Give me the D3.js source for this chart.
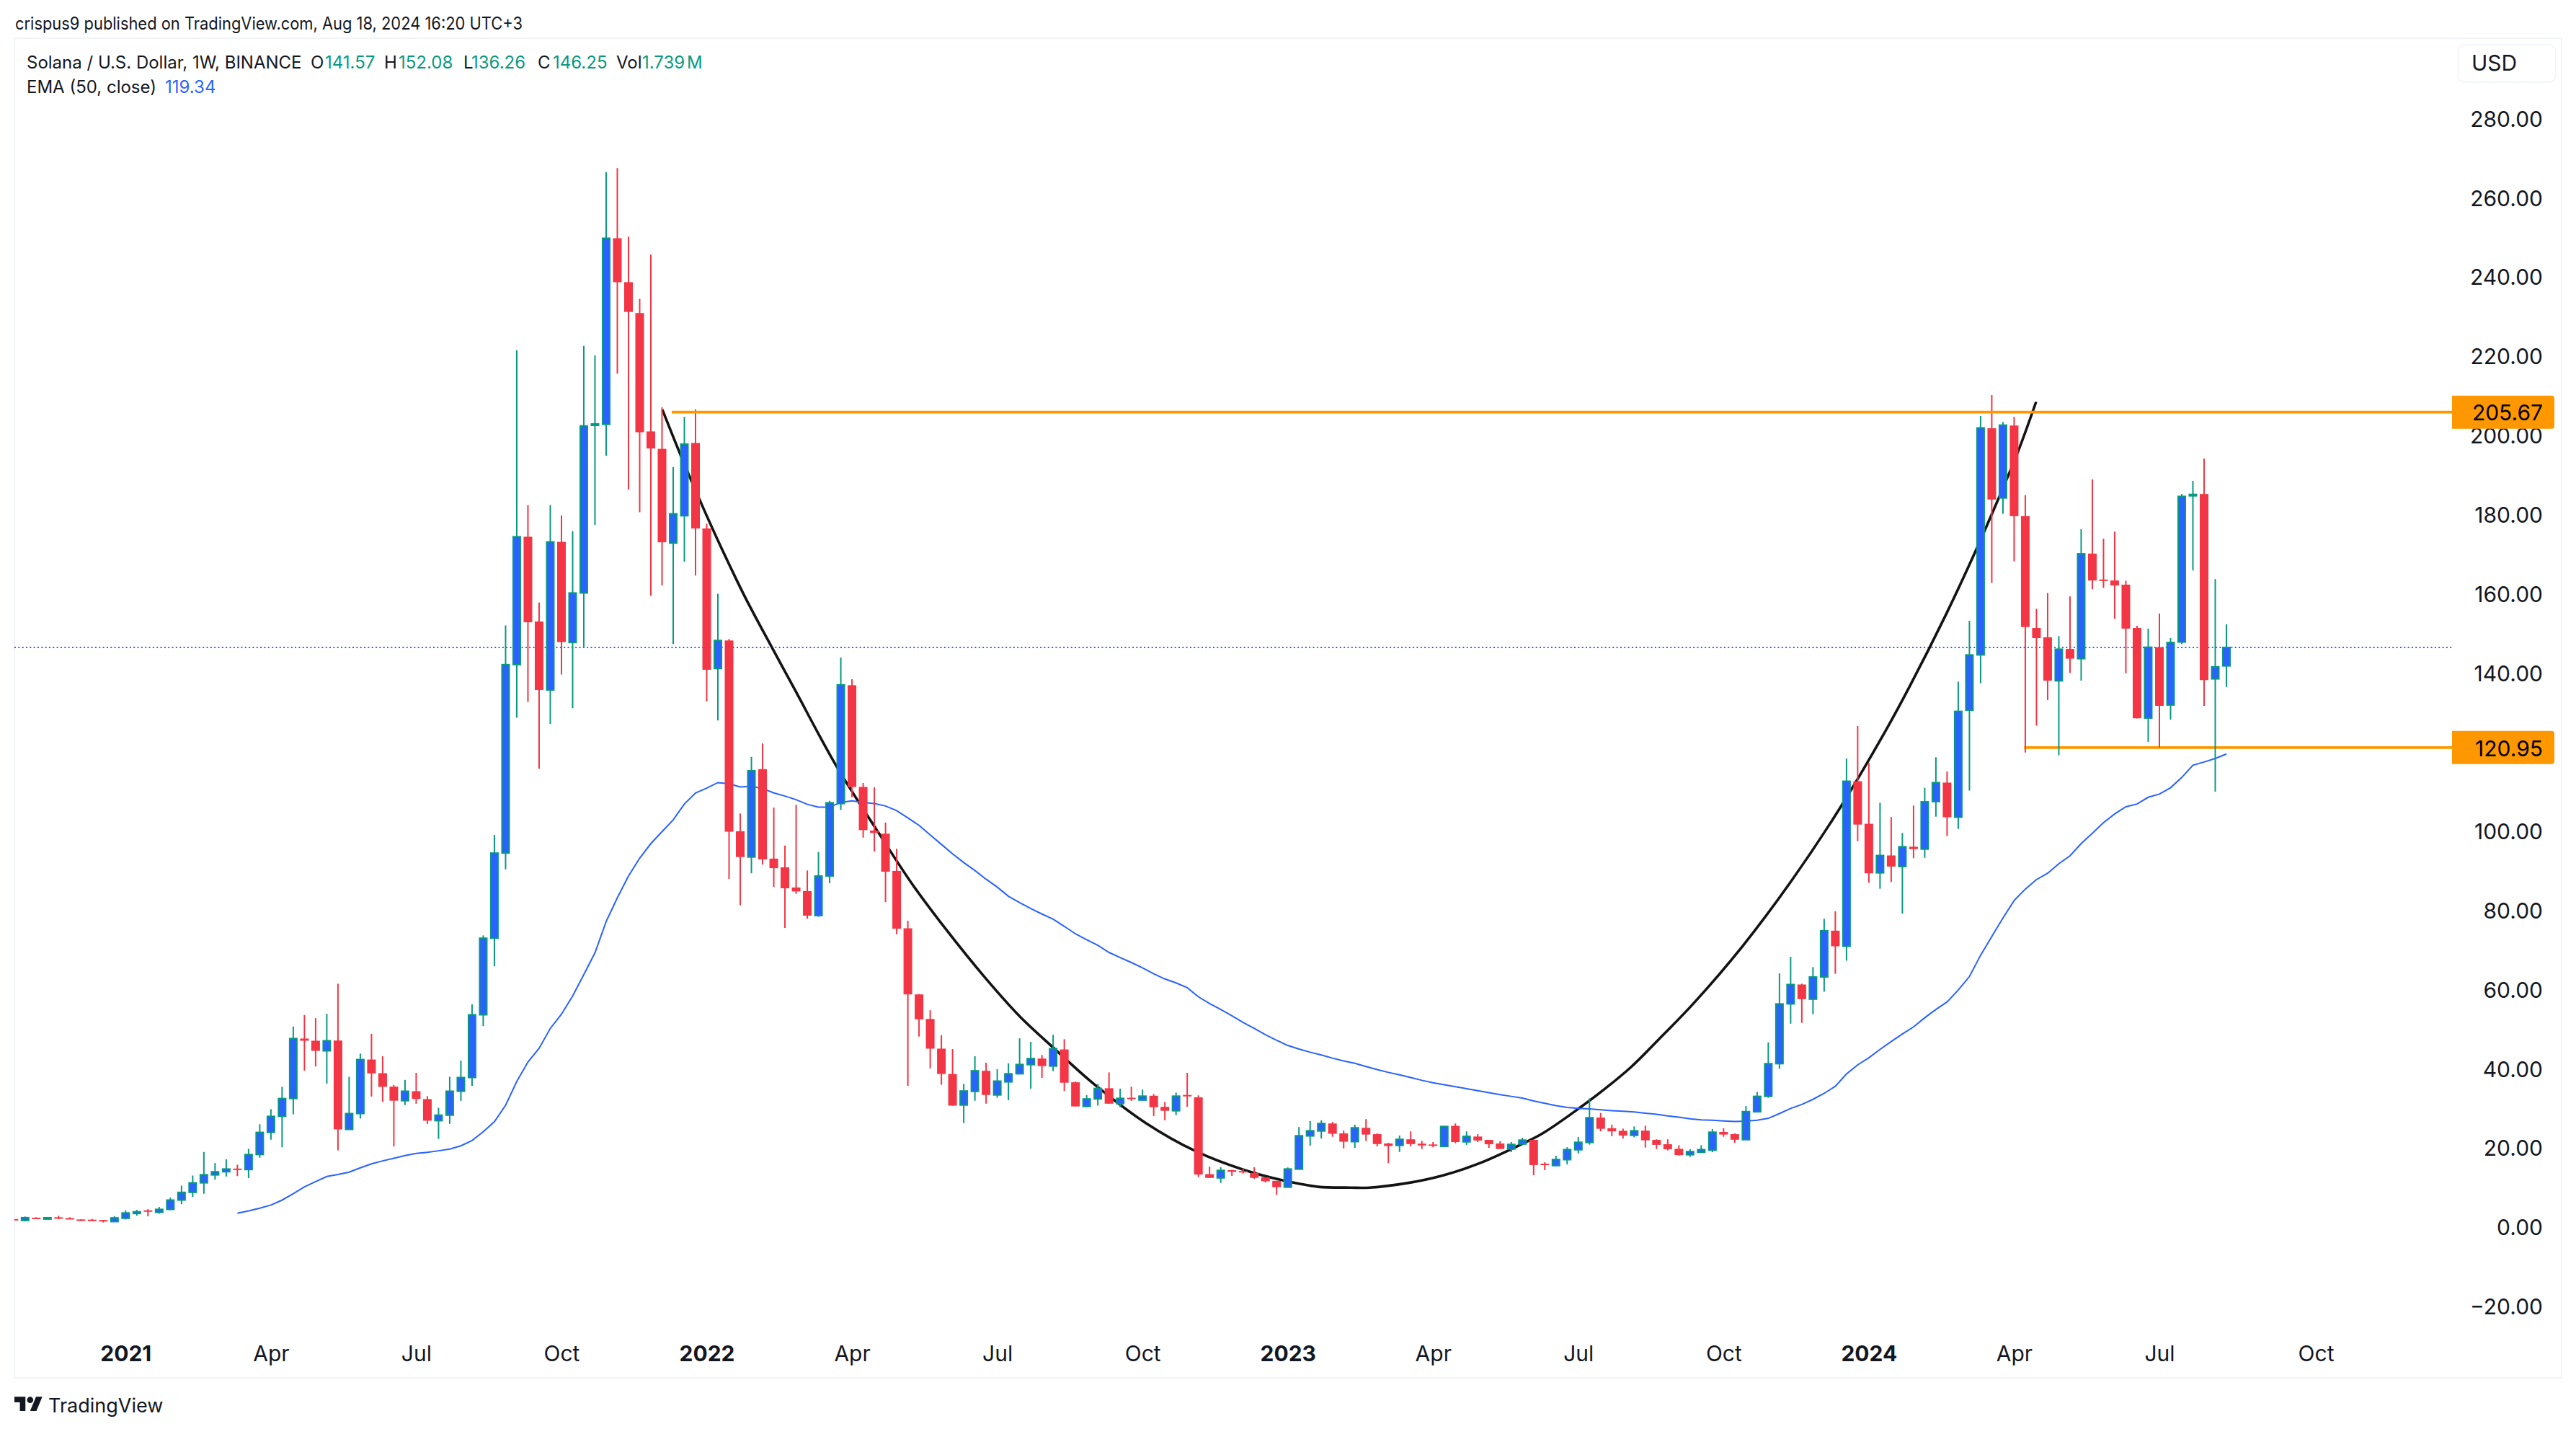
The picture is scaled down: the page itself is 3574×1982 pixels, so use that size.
<!DOCTYPE html>
<html><head><meta charset="utf-8">
<style>
html,body{margin:0;padding:0;background:#fff}
svg{display:block}
text{font-family:Inter,"Noto Sans",sans-serif;fill:#131722}
.tick line,.domain{display:none}
</style>
<script src="https://cdn.jsdelivr.net/npm/d3@7/dist/d3.min.js"></script>
</head><body><svg id="c" width="3574" height="1982"></svg>
<script>
const opens=[1.85,1.5,2.2,2.0,2.3,2.1,1.75,1.7,1.6,1.2,
2.05,3.25,4.05,3.55,4.3,6.65,8.6,11,13,13.8,
14.6,14.35,18.15,23.75,27.8,32.3,47.45,46.9,44.35,46.95,
24.5,28.5,42.15,38.7,35.3,31.75,34.15,32.15,26.7,28.1,
34.15,37.6,53.45,72.8,94.3,141.9,174.2,152.8,135.5,172.9,
147.5,160,202.5,202.6,249.6,238.5,230.7,200.8,196.4,172.6,
179.5,197.9,176.3,140.9,148,99.8,93.3,115.5,92.9,90.7,
85.6,84.7,78.5,88.5,106.8,136.7,111,100,99.2,89.8,
75.3,58.6,52.4,44.9,38.5,30.65,34.1,39.3,33.2,36.5,
38.55,40.85,42.4,40.5,44.7,36.4,30.3,32.2,34.9,31,
32.5,31.9,33,30.2,29.2,33.2,32.6,13.2,12.25,14.2,
14,13.5,12.4,11.5,9.9,14.45,22.85,24.1,26,23.5,
21.4,24.9,23.3,20.95,20.45,22,20.9,20.7,20.2,25.4,
21.35,22.7,21.85,20.95,19.55,20.8,21.85,15.85,15.35,16.85,
19.35,21.2,27.5,24.8,24.15,23,24.2,21.85,20.75,19.6,
18.1,18.75,19.25,23.85,23.3,21.9,28.95,32.85,41.1,56.2,
61.1,57.4,63,74.7,70.75,112.45,101.7,89.3,93.7,90.9,
95.9,95.3,107.3,112.1,103.35,130.4,144.35,201.6,184,202.3,
179.4,151.15,148.8,137.8,145.85,143.4,169.95,163.4,163.15,162.1,
151.15,128.4,146.3,131.7,147.6,184.6,185,138.3,141.57];
const highs=[1.9,2.5,2.3,2.35,2.7,2.3,1.85,1.9,1.65,2.6,
4.05,4.2,4.35,4.9,7.3,10.3,12.85,18.8,16,16.95,
15.6,19.6,25.8,29.6,35.25,50.5,53.4,52.6,53.7,61.3,
37.8,43.65,48.65,43,35.7,37,38.8,32.9,29.95,37.8,
41.9,56.1,73.5,98.9,151.8,221.3,182.2,157.6,182.2,179.6,
175.6,222.4,220,266.3,267.3,250,234.3,245.5,206.9,191.8,
204.5,206.4,177.5,159.8,148.4,104.3,118.6,122,105.8,96.2,
106.5,89.9,94.6,107.5,143.7,138.2,112,110.9,102,95.4,
77.2,58.7,54.6,48.3,44.8,36,43,41.35,39.7,41.2,
47.5,46.6,43.3,48.4,47.3,36.6,33.15,36,38.9,34.8,
35.3,34.55,33.45,31.45,33.8,38.8,33.1,15.1,14.95,14.3,
14.6,14.95,12.45,11.5,14.9,25.1,26.6,26.8,26.4,24.2,
25.7,27.1,23.5,21.1,22.95,24,21.6,21.3,25.4,26,
24,23.3,21.85,21.5,21.3,22.4,22,16.2,17.85,20,
22.6,32.35,28.65,25.7,24.7,25.25,25.45,22,22,20.5,
19.5,20.5,24.6,24.8,23.5,30.4,34,46.5,63.9,68.1,
61.3,65.5,77.7,79.6,118.2,126.4,117.1,107,103.4,99.4,
106.3,110.8,118.5,114.9,137.6,152.95,204.7,210,203.2,204.5,
184.7,156,160,149.1,159.15,176.1,188.7,173.7,175.5,163.1,
151.7,151,154.8,148.6,185,188.3,193.95,163.5,152.08];
const lows=[1.75,1.3,1.9,1.9,1.8,1.8,1.4,1.4,1.0,1.2,
1.75,2.7,2.55,3.2,4.1,5.6,7.45,8.25,11.8,12.6,
12.7,12.2,17.35,21.9,20,28.3,39.35,40.4,36.05,19.2,
24.4,27.25,32.8,31.45,20.2,30.65,31,25.9,22.1,25.9,
31.7,35.5,50.6,65.7,90.2,128.5,132.5,115.6,126.9,139.4,
130.9,146.2,177.2,194.7,215.4,186.1,180.4,159.3,161.9,147.1,
167.9,164.4,132.6,127.8,87.8,81.1,89.2,91.4,85.7,75.4,
84,77.7,78.2,86.7,105.2,108.4,98.2,94.7,81.9,73.8,
35.5,47.95,39.9,35.8,30.5,26.1,31.75,31,32.5,31.9,
38.4,34.8,37.5,39.2,34.2,30.3,30.1,30.5,31,30.1,
31.7,31.9,27.9,26.8,28.1,30.2,12.45,12.25,11,12.75,
13.35,12,11.1,8,9.85,14.45,20.4,22.2,22.65,19.7,
19.85,21.55,20.2,16,18.8,20.2,19.55,20,20.1,21,
20.6,21.3,19.85,19.55,18.75,20.7,12.9,14.2,15.35,15.65,
18.4,20.65,24,22.8,22.2,22.5,19.9,19.55,19.2,17.9,
17.55,18.6,18.75,22.65,21.1,21.9,28.85,32.5,39.8,51.2,
51.4,53.6,59.3,63.8,67.1,97.3,86.8,85.3,87,79,
93,93.1,103.5,98.6,100.4,110.1,137.2,162.5,180,168,
119.7,126.5,132.95,119,139.8,137.85,160.95,161.3,153.5,139.7,
128.3,122.4,120.95,128,147.1,165.7,131.5,109.8,136.26];
const closes=[1.8,2.2,2.0,2.2,2.0,1.9,1.6,1.45,1.4,2.15,
3.4,3.7,3.7,4.3,6.65,8.6,11,13.05,13.8,14.5,
14.4,18.15,23.75,27.8,32.3,47.45,46.9,44.35,46.9,24.5,
28.5,42.15,38.65,35.25,31.75,34.15,32.2,26.7,28.1,34.15,
37.6,53.45,72.8,94.3,141.9,174.2,152.6,135.5,172.9,147.6,
160,202.2,202.7,249.6,238.5,231,200.6,196.5,172.8,180,
197.6,176.3,140.6,148,99.7,93.3,115.1,92.7,90.5,85.4,
84.6,78.5,88.5,107,136.8,111,100.1,99.4,89.6,75.2,
58.6,52.3,44.9,38.5,30.5,34.2,39.3,33.2,36.7,38.55,
40.9,42.4,40.5,44.9,36.3,30.3,32.2,34.85,31,32.35,
32.3,32.9,30.1,29.2,32.9,32.85,13.1,12.25,14.15,13.8,
13.8,12.25,11.4,9.9,14.5,22.9,24.15,26,23.4,21.4,
24.9,23.2,20.8,20.3,22,20.8,20.45,20.4,25.25,21.3,
22.75,21.7,20.75,19.55,20.7,21.8,15.5,15.55,16.9,19.4,
21.25,27.45,24.65,24,22.95,24.15,21.75,20.6,19.5,18,
18.9,19.4,23.8,23.2,21.9,29,32.85,41.1,56.2,61.1,
57.4,63,74.7,70.75,112.45,101.5,89.2,93.7,90.9,95.9,
95.3,107.25,112.1,103.35,130.1,144.35,201.7,183.6,202.4,179.4,
151.4,148.6,137.85,145.8,143.4,169.9,163.15,163.1,161.9,151,
128.35,146.3,131.5,147.5,184.4,184.9,138,141.35,146.25];
const emaStart=20;
const ema50=[3.33,3.9,4.6,5.4,6.65,8.25,10,11.3,12.6,13.1,
13.7,14.8,15.8,16.55,17.2,17.9,18.45,18.7,19.1,19.55,
20.35,21.7,23.9,26.45,30.6,36.6,41.5,45,50,53.6,
58.2,63.6,69.1,77,83,88.5,93,96.7,99.7,102.7,
106.7,109.5,110.7,112.1,111.8,111,111.2,110.6,109.5,108.7,
107.8,106.6,105.9,105.9,107.1,107.5,107.1,106.8,106.2,105,
103.2,101.3,98.9,96.5,94.1,91.9,89.9,87.7,85.7,83.4,
81.8,80.3,78.9,77.6,75.8,73.9,72.4,71,69.2,67.9,
66.65,65.3,63.8,62.5,61.5,60.3,58,56.3,54.8,53.2,
51.5,50,48.4,47,45.7,44.8,44,43.3,42.5,41.8,
41.2,40.4,39.6,38.9,38.3,37.6,36.9,36.3,35.8,35.3,
34.8,34.3,33.8,33.3,32.85,32.4,31.7,31.1,30.5,30.05,
29.8,29.7,29.45,29.25,29.1,28.9,28.6,28.3,27.9,27.6,
27.2,26.9,26.8,26.65,26.5,26.6,26.8,27.3,28.5,29.8,
30.8,32.1,33.6,35.4,38.5,40.8,42.6,44.7,46.7,48.6,
50.4,52.7,54.8,56.7,59.7,63.1,68.5,73.2,77.9,82.3,
85.2,87.6,89.2,91.6,93.6,96.7,99.3,102,104.2,106,
106.7,108.4,109.2,110.8,113.4,116.5,117.3,118.2,119.34];
const cupWeeks=[58.03,59.71,61.45,63.26,65.39,67.84,69.9,73.58,77.45,80.48,83.45,86.74,90.03,93,96.6,101.25,105.83,110.15,113.76,116.73,119.63,121.3,124.6,127.9,131.2,134.5,136.8,140.1,142.4,144.7,147.6,150.3,154.66,158.92,163.24,167.56,169.69,172.91,175.04,177.23,179.36,180.97];
const cupPrices=[206.3,194.5,183,171.7,159.2,146.2,135.5,116.4,99.1,86.1,74.9,63.4,53,45.2,36.1,26.2,18.9,14.2,11.5,10,9.8,9.8,10.9,12.9,16,20.2,23.5,29.9,34.8,40.2,48.4,56.3,70.66,86.7,104.9,125.5,136.6,154.6,167.4,181.4,195.8,208.3];
const priceTicks=[-20,0,20,40,60,80,100,120,140,160,180,200,220,240,260,280];
const timeWeeks=[10,23,36,49,62,75,88,101,114,127,140,153,166,179,192,206];
const timeLabels=["2021","Apr","Jul","Oct","2022","Apr","Jul","Oct","2023","Apr","Jul","Oct","2024","Apr","Jul","Oct"];
const levelValues=[205.67,120.95];
const levelStartWeeks=[58.87,179.9];
const lastClose=146.25;

const svg=d3.select("#c");
const x=d3.scaleLinear().domain([0,198]).range([19.3,3089]);
const y=d3.scaleLinear().domain([0,200]).range([1701,602.8]);
const frame={l:20,t:53,r:3554,b:1911,axis:3402};
const GREEN="#089981",RED="#f23645",BLUE="#2962ff",ORANGE="#ff9800",INK="#131722";

svg.append("defs").append("clipPath").attr("id","pane").append("rect")
 .attr("x",frame.l).attr("y",frame.t).attr("width",frame.axis-frame.l).attr("height",frame.b-frame.t);
svg.append("rect").attr("x",frame.l).attr("y",frame.t).attr("width",frame.r-frame.l).attr("height",frame.b-frame.t)
 .attr("fill","none").attr("stroke","#f0f3fa").attr("stroke-width",2);

const pane=svg.append("g").attr("clip-path","url(#pane)");
pane.append("line").attr("x1",frame.l).attr("x2",frame.axis).attr("y1",y(lastClose)).attr("y2",y(lastClose))
 .attr("stroke",BLUE).attr("stroke-width",2).attr("stroke-dasharray","2 3.33");
pane.append("path").attr("d",d3.line().x(d=>x(d[0])).y(d=>y(d[1])).curve(d3.curveCatmullRom.alpha(.5))(d3.zip(cupWeeks,cupPrices)))
 .attr("fill","none").attr("stroke","#131313").attr("stroke-width",3.6);
pane.append("path").attr("d",d3.line().x((d,i)=>x(i+emaStart)).y(d=>y(d))(ema50))
 .attr("fill","none").attr("stroke",BLUE).attr("stroke-width",2);
pane.append("line").attr("x1",x(levelStartWeeks[1])).attr("x2",frame.axis).attr("y1",y(levelValues[1])).attr("y2",y(levelValues[1]))
 .attr("stroke",ORANGE).attr("stroke-width",3.6);

const candles=pane.append("g").selectAll("g").data(opens.map((o,i)=>({i,o,h:highs[i],l:lows[i],c:closes[i]}))).join("g");
const W=12;
candles.append("line").attr("x1",d=>x(d.i)).attr("x2",d=>x(d.i)).attr("y1",d=>y(d.h)).attr("y2",d=>y(d.l))
 .attr("stroke",d=>d.c>=d.o?GREEN:RED).attr("stroke-width",2);
candles.append("rect")
 .attr("x",d=>x(d.i)-W/2+(d.c>=d.o?1:0)).attr("width",d=>d.c>=d.o?W-2:W)
 .attr("y",d=>y(Math.max(d.o,d.c)))
 .attr("height",d=>Math.max(Math.abs(y(d.o)-y(d.c)),2))
 .attr("fill",d=>d.c>=d.o?BLUE:RED)
 .attr("stroke",d=>d.c>=d.o?GREEN:"none").attr("stroke-width",2);

svg.append("line").attr("x1",x(levelStartWeeks[0])).attr("x2",frame.axis).attr("y1",y(levelValues[0])).attr("y2",y(levelValues[0]))
 .attr("stroke",ORANGE).attr("stroke-width",3.6);

const fmt=v=>(v<0?"\u2212":"")+Math.abs(v).toFixed(2);
const yAxis=svg.append("g").attr("transform","translate(3528,1)")
 .call(d3.axisRight(y).tickValues(priceTicks).tickFormat(fmt).tickSize(0).tickPadding(0));
yAxis.selectAll("text").attr("text-anchor","end").attr("dy","0.36em").attr("x",0)
 .style("font-size","30px").style("font-family","Inter").style("fill",INK);
const xAxis=svg.append("g").attr("transform","translate(0,1877)")
 .call(d3.axisBottom(x).tickValues(timeWeeks).tickFormat((d,i)=>timeLabels[i]).tickSize(0).tickPadding(0));
xAxis.selectAll("text").attr("y",0).attr("dy","0.36em")
 .style("font-size","30px").style("font-family","Inter").style("fill",INK)
 .style("font-weight",(d,i)=>/^\d/.test(timeLabels[i])?700:400);

levelValues.forEach(v=>{
 const g=svg.append("g");
 g.append("path").attr("fill",ORANGE)
  .attr("d",`M3402 ${y(v)-23}H3540a4 4 0 0 1 4 4V${y(v)+19}a4 4 0 0 1 -4 4H3402Z`);
 g.append("text").attr("x",3528).attr("y",y(v)+1).attr("dy","0.36em").attr("text-anchor","end")
  .style("font-size","30px").style("fill","#000").text(v.toFixed(2));
});

svg.append("rect").attr("x",3410.5).attr("y",62).attr("width",135).attr("height",52).attr("rx",9)
 .attr("fill","#fff").attr("stroke","#f0f3fa").attr("stroke-width",1.5);
svg.append("text").attr("x",3429).attr("y",87).attr("dy","0.36em").style("font-size","30px").text("USD");

svg.append("text").attr("x",21).attr("y",32).attr("dy","0.36em").style("font-size","24px")
 .attr("textLength",704).attr("lengthAdjust","spacingAndGlyphs")
 .text("crispus9 published on TradingView.com, Aug 18, 2024 16:20 UTC+3");
const legend=[["Solana / U.S. Dollar, 1W, BINANCE",37,INK],
["O",431,INK],["141.57",451,GREEN],["H",533,INK],["152.08",553,GREEN],["L",643,INK],["136.26",654,GREEN],
["C",746,INK],["146.25",767,GREEN],["Vol",855,INK],["1.739",891,GREEN],["M",953,GREEN]];
svg.append("g").selectAll("text").data(legend).join("text")
 .attr("x",d=>d[1]).attr("y",86).attr("dy","0.36em").style("font-size","24px").style("fill",d=>d[2]).text(d=>d[0]);
svg.append("text").attr("x",37).attr("y",120).attr("dy","0.36em").style("font-size","24px").text("EMA (50, close)");
svg.append("text").attr("x",229).attr("y",120).attr("dy","0.36em").style("font-size","24px").style("fill",BLUE).text("119.34");

const logo=svg.append("g").attr("transform","translate(20,1933) scale(1.09)").attr("fill",INK);
logo.append("path").attr("d","M14 22H7V11H0V4h14v18zM28 22h-8l7.5-18h8L28 22z");
logo.append("circle").attr("cx",20).attr("cy",8).attr("r",4);
svg.append("text").attr("x",67).attr("y",1949).attr("dy","0.36em").style("font-size","27px").text("TradingView");
</script></body></html>
